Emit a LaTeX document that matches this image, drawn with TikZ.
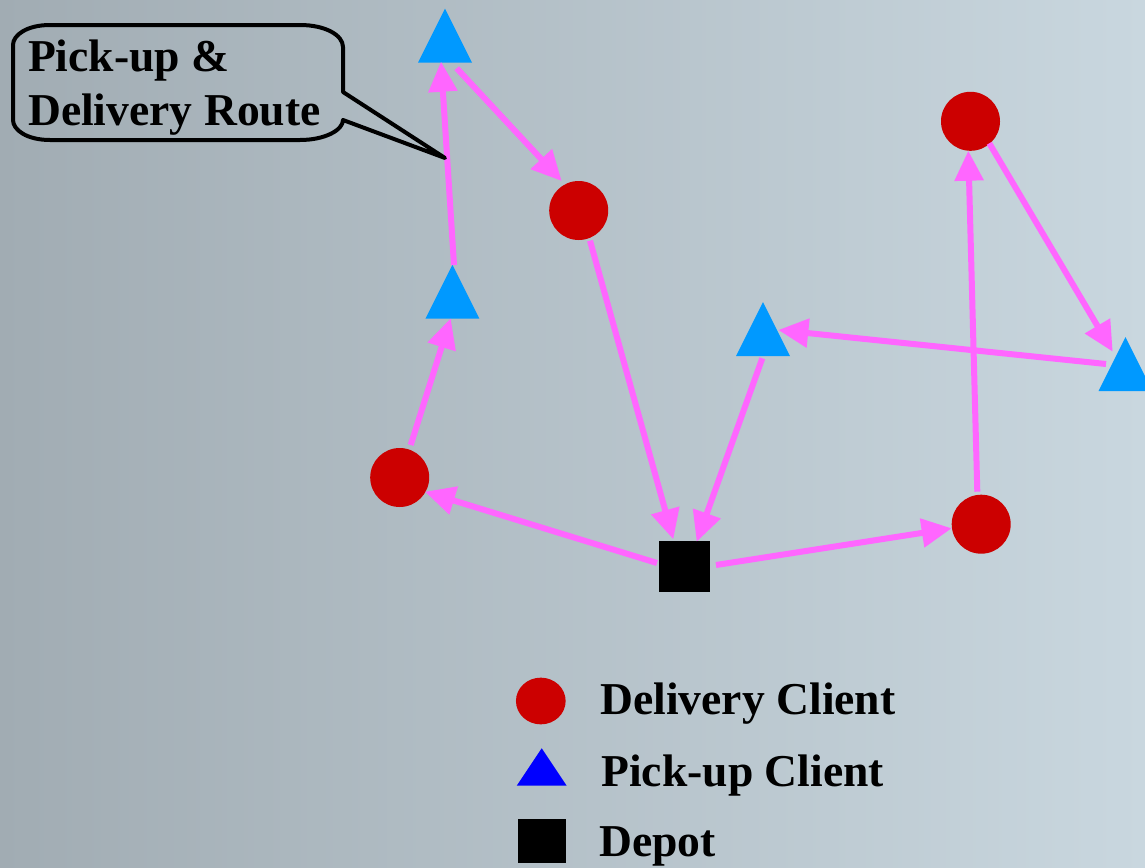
\documentclass[tikz,border=0pt]{standalone}
\usepackage{fontspec}
\setmainfont{Liberation Serif}
\usetikzlibrary{arrows.meta,calc,shapes.geometric}
\definecolor{bgleft}{RGB}{161,172,179}
\definecolor{bgright}{RGB}{201,215,223}
\definecolor{routecol}{RGB}{255,102,255}
\definecolor{delivcol}{RGB}{204,0,0}
\definecolor{pickcol}{RGB}{0,153,255}
\definecolor{keypick}{RGB}{0,0,255}

\begin{document}
\begin{tikzpicture}[x=0.5pt,y=-0.5pt,
  delivery/.style={circle, fill=delivcol, inner sep=0pt, minimum size=29.5pt},
  tri/.style={rectangle, inner sep=0pt, path picture={\fill[#1]
      (path picture bounding box.south west) --
      (path picture bounding box.south east) --
      (path picture bounding box.north) -- cycle;}},
  pickup/.style={tri=pickcol, minimum width=27pt, minimum height=27pt},
  depot/.style={rectangle, fill=black, inner sep=0pt, minimum size=25.5pt},
  route/.style={draw=routecol, line width=3pt, -{Triangle[length=15pt,width=14pt]}},
  bigtext/.style={font=\fontsize{22.8}{27}\selectfont\bfseries, inner sep=0pt, anchor=base west}]

% canvas with a soft left-to-right gradient
\useasboundingbox (0,0) rectangle (1145,867);
\shade[left color=bgleft, right color=bgright] (0,0) rectangle (1145,867);

% clients and depot
\node[pickup]   (t1)  at (445,35.7)    {};
\node[delivery] (c1)  at (578.7,210.5) {};
\node[pickup]   (t2)  at (452.4,291.7) {};
\node[delivery] (c2)  at (399.7,477.5) {};
\node[depot]    (dep) at (684.5,566.5) {};
\node[pickup]   (t4)  at (763,329.2)   {};
\node[delivery] (c3)  at (981.2,524.2) {};
\node[delivery] (c4)  at (970.5,121.3) {};
\node[pickup]   (t3)  at (1125.5,364.1) {};

% first tour
\draw[route] ($(dep)+(-27.5,-3.5)$) -- ($(c2)+(25.3,14.2)$);
\draw[route] ($(c2)+(11,-32.5)$)    -- ($(t2)+(-1.7,26.6)$);
\draw[route] ($(t2)+(1.6,-26.7)$)   -- ($(t1)+(-4,26)$);
\draw[route] ($(t1)+(11.7,32.6)$)   -- ($(c1)+(-17,-29.5)$);
\draw[route] ($(c1)+(11.3,30.2)$)   -- ($(dep)+(-11.2,-27.2)$);

% second tour
\draw[route] ($(dep)+(31.5,-1.5)$)  -- ($(c3)+(-29.5,4.1)$);
\draw[route] ($(c3)+(-3.9,-32.5)$)  -- ($(c4)+(-2.2,29.4)$);
\draw[route] ($(c4)+(18.8,22)$)     -- ($(t3)+(-12.8,-12.4)$);
\draw[route] ($(t3)+(-19.5,-0.1)$)  -- ($(t4)+(15.3,0.8)$);
\draw[route] ($(t4)+(-0.7,29.1)$)   -- ($(dep)+(12.2,-24.8)$);

% speech bubble naming the route
\coordinate (tail) at (445,158);
\draw[line width=2pt, line join=round]
  (50,25) -- (300,25) .. controls (325,25) and (343,35) .. (343,47)
  -- (343,92) -- (tail) -- (343,120)
  .. controls (343,130) and (325,140) .. (300,140)
  -- (50,140) .. controls (27,140) and (13,130) .. (13,120)
  -- (13,45) .. controls (13,35) and (27,25) .. (50,25) -- cycle;
\node[bigtext] (call1) at (27.7,71.7)  {Pick-up \&};
\node[bigtext] (call2) at (27.7,125.7) {Delivery Route};

% legend
\node[ellipse, fill=delivcol, inner sep=0pt, minimum width=24.85pt, minimum height=23.35pt] (kdel) at (540.8,701) {};
\node[tri=keypick, minimum width=25pt, minimum height=18.7pt] (kpick) at (541.7,767) {};
\node[rectangle, fill=black, inner sep=0pt, minimum width=23.7pt, minimum height=21.7pt] (kdep) at (542,841) {};
\node[bigtext] (ldel)  at (600,714.3) {Delivery Client};
\node[bigtext] (lpick) at (601,786.7) {Pick-up Client};
\node[bigtext] (ldep)  at (599,856.7) {Depot};
\end{tikzpicture}
\end{document}
